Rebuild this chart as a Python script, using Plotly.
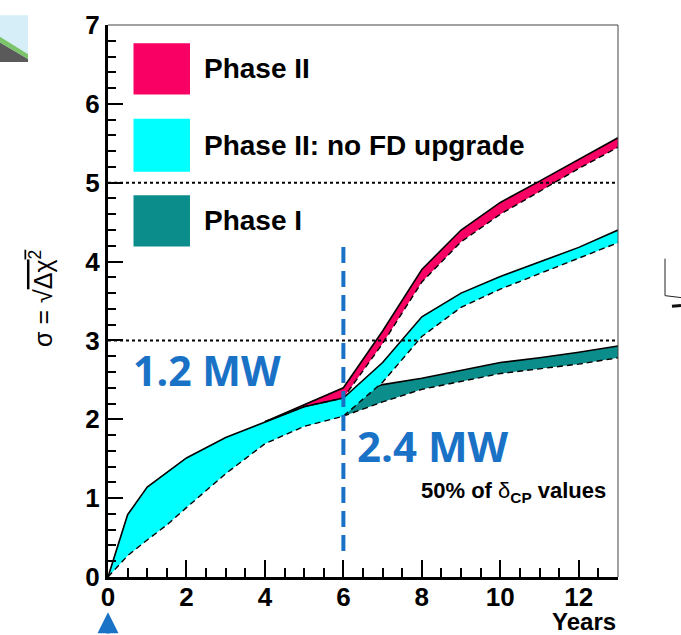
import plotly.graph_objects as go

# ---------------- data ----------------
cyan_years = [0, 0.5, 1, 1.5, 2, 3, 4, 5, 6, 7, 8, 9, 10, 11, 12, 13]
cyan_upper = [0, 0.79, 1.14, 1.33, 1.51, 1.77, 1.97, 2.16, 2.27, 2.72, 3.30, 3.60, 3.81, 4.00, 4.18, 4.40]
cyan_lower = [0, 0.27, 0.47, 0.66, 0.88, 1.31, 1.69, 1.91, 2.04, 2.47, 3.05, 3.42, 3.65, 3.85, 4.04, 4.24]

red_years = [4, 5, 6, 7, 8, 9, 10, 11, 12, 13]
red_upper = [1.97, 2.19, 2.40, 3.12, 3.90, 4.40, 4.75, 5.02, 5.30, 5.57]
red_lower = [1.97, 2.16, 2.27, 2.96, 3.74, 4.25, 4.60, 4.89, 5.18, 5.45]

teal_years = [6, 7, 8, 9, 10, 11, 12, 13]
teal_upper = [2.27, 2.44, 2.52, 2.62, 2.72, 2.78, 2.85, 2.93]
teal_lower = [2.04, 2.22, 2.38, 2.48, 2.58, 2.64, 2.70, 2.78]

legend_labels = ["Phase II", "Phase II: no FD upgrade", "Phase I"]
ref_levels = [3, 5]
power_change_year = 6
power_labels = ["1.2 MW", "2.4 MW"]

x_ticks = [0, 2, 4, 6, 8, 10, 12]
y_ticks = [0, 1, 2, 3, 4, 5, 6, 7]

RED = "#F80064"
CYAN = "#00FFFF"
TEAL = "#0B8E8B"
BLUE = "#1A72C6"

fig = go.Figure()


def band(years, upper, lower, color):
    fig.add_trace(go.Scatter(
        x=list(years) + list(years)[::-1],
        y=list(upper) + list(lower)[::-1],
        fill="toself", fillcolor=color, mode="none",
        hoverinfo="skip", showlegend=False))


def band_lines(years, upper, lower):
    fig.add_trace(go.Scatter(x=years, y=lower, mode="lines",
                             line=dict(color="black", width=1.4, dash="6px,4px"),
                             showlegend=False, hoverinfo="skip"))
    fig.add_trace(go.Scatter(x=years, y=upper, mode="lines",
                             line=dict(color="black", width=1.6),
                             showlegend=False, hoverinfo="skip"))


band(teal_years, teal_upper, teal_lower, TEAL)
band_lines(teal_years, teal_upper, teal_lower)
band(cyan_years, cyan_upper, cyan_lower, CYAN)
band(red_years, red_upper, red_lower, RED)
band_lines(red_years, red_upper, red_lower)
band_lines(cyan_years, cyan_upper, cyan_lower)

for lv in ref_levels:
    fig.add_trace(go.Scatter(x=[0, 13], y=[lv, lv], mode="lines",
                             line=dict(color="black", width=2, dash="dot"),
                             showlegend=False, hoverinfo="skip"))

fig.add_trace(go.Scatter(x=[power_change_year, power_change_year], y=[0.33, 4.21],
                         mode="lines",
                         line=dict(color=BLUE, width=4, dash="16px,8px"),
                         showlegend=False, hoverinfo="skip"))

shapes = []
annotations = []

leg_colors = [RED, CYAN, TEAL]
leg_y = [(6.77, 6.12), (5.81, 5.14), (4.84, 4.19)]
for lab, col, (yt, yb) in zip(legend_labels, leg_colors, leg_y):
    shapes.append(dict(type="rect", xref="x", yref="y", x0=0.65, x1=2.09, y0=yb, y1=yt,
                       fillcolor=col, line=dict(width=0), layer="above"))
    annotations.append(dict(x=2.4, y=(yt + yb) / 2, xref="x", yref="y", text=lab,
                            showarrow=False, xanchor="left", yanchor="middle",
                            font=dict(family="Liberation Sans", size=28, color="black", weight="bold")))

annotations.append(dict(x=0.58, y=2.62, xref="x", yref="y", text=power_labels[0], showarrow=False,
                        xanchor="left", yanchor="middle",
                        font=dict(family="Open Sans", size=41, color=BLUE, weight="bold")))
annotations.append(dict(x=6.3, y=1.67, xref="x", yref="y", text=power_labels[1], showarrow=False,
                        xanchor="left", yanchor="middle",
                        font=dict(family="Open Sans", size=42, color=BLUE, weight="bold")))
annotations.append(dict(x=12.75, y=1.08, xref="x", yref="y",
                        text="50% of <span style='font-weight:normal'>δ</span><sub>CP</sub> values",
                        showarrow=False, xanchor="right", yanchor="middle",
                        font=dict(family="Liberation Sans", size=22, color="black", weight="bold")))

annotations.append(dict(x=13, y=-0.08, xref="x", yref="paper", text="Years", showarrow=False,
                        xanchor="right", yanchor="middle",
                        font=dict(family="Liberation Sans", size=24, color="black", weight="bold")))
annotations.append(dict(x=-0.13, y=0.505, xref="paper", yref="paper",
                        text="σ = √<span style='text-decoration:overline'>Δχ<sup>2</sup></span>",
                        showarrow=False, textangle=-90, xanchor="center", yanchor="middle",
                        font=dict(family="Liberation Sans", size=25, color="black")))

annotations.append(dict(x=0, y=-0.064, xref="x", yref="paper", ax=0, ay=45, text="",
                        showarrow=True, arrowhead=2, arrowsize=1.2, arrowwidth=3.5,
                        arrowcolor=BLUE))

shapes.append(dict(type="line", xref="paper", yref="paper", x0=0, x1=1, y0=1, y1=1,
                   line=dict(color="#444", width=1)))
shapes.append(dict(type="line", xref="paper", yref="paper", x0=1, x1=1, y0=0, y1=1,
                   line=dict(color="#444", width=1)))


def px(xp):
    return (xp - 108) / 510


def py(yp):
    return (577 - yp) / 567


shapes.append(dict(type="rect", xref="paper", yref="paper", x0=px(0), x1=px(28), y0=py(48), y1=py(0),
                   fillcolor="#D5EEF8", line=dict(width=0)))
shapes.append(dict(type="path", xref="paper", yref="paper",
                   path=f"M {px(0)},{py(28)} L {px(28)},{py(45)} L {px(28)},{py(48)} L {px(0)},{py(48)} Z",
                   fillcolor="#5A5A5A", line=dict(width=0)))
shapes.append(dict(type="path", xref="paper", yref="paper",
                   path=f"M {px(0)},{py(22)} L {px(28)},{py(40)} L {px(28)},{py(45)} L {px(0)},{py(28)} Z",
                   fillcolor="#7CC46A", line=dict(width=0)))
shapes.append(dict(type="line", xref="paper", yref="paper", x0=px(665), x1=px(665), y0=py(250), y1=py(288),
                   line=dict(color="#222", width=1)))
shapes.append(dict(type="line", xref="paper", yref="paper", x0=px(665), x1=px(681), y0=py(288), y1=py(290),
                   line=dict(color="#222", width=1)))
shapes.append(dict(type="line", xref="paper", yref="paper", x0=px(672), x1=px(681), y0=py(299), y1=py(298),
                   line=dict(color="#111", width=3)))

tickfont = dict(family="Liberation Sans", size=26, color="black", weight="bold")

fig.update_layout(
    width=681, height=635,
    margin=dict(l=108, r=63, t=10, b=58),
    paper_bgcolor="white", plot_bgcolor="white",
    showlegend=False,
    shapes=shapes, annotations=annotations,
    xaxis=dict(range=[0, 13], tickvals=x_ticks, ticks="inside", ticklen=17, tickwidth=2,
               tickcolor="black", showline=True, linecolor="black", linewidth=3,
               showgrid=False, zeroline=False, tickfont=tickfont, ticklabeloverflow="allow",
               ticklabelstandoff=-5,
               minor=dict(dtick=0.5, ticks="inside", ticklen=9, tickwidth=2, tickcolor="black")),
    yaxis=dict(range=[0, 7], tickvals=y_ticks, ticks="inside", ticklen=15, tickwidth=2,
               tickcolor="black", showline=True, linecolor="black", linewidth=3,
               showgrid=False, zeroline=False, tickfont=tickfont, ticklabeloverflow="allow",
               minor=dict(dtick=0.2, ticks="inside", ticklen=8, tickwidth=2, tickcolor="black")),
)

fig.write_html("out.html", config={"displayModeBar": False},
               post_script="document.body.style.margin='0px';")
